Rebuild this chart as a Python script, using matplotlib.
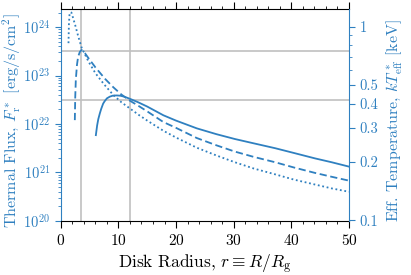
import numpy as np
import matplotlib
matplotlib.use("Agg")
import matplotlib.pyplot as plt
from matplotlib.ticker import FixedLocator, NullFormatter, MultipleLocator, LogLocator

plt.rcParams['font.family'] = 'cmr10'
plt.rcParams['mathtext.fontset'] = 'cm'
plt.rcParams['axes.formatter.use_mathtext'] = True

# radius (R/R_g) and log10 flux [erg/s/cm^2]
r_dot = [1.33, 1.40, 1.50, 1.65, 1.85, 2.2, 2.5, 3.0, 3.6, 4.8, 6.0, 7.5, 9.1,
         10.5, 12.0, 13.5, 15.0, 17.8, 20.0, 23.6, 27.0, 30.2, 33.5, 37.2,
         40.5, 44.1, 47.0, 50.0]
logF_dot = [23.67, 24.05, 24.25, 24.31, 24.30, 24.16, 24.04, 23.82, 23.58, 23.29,
            23.05, 22.82, 22.60, 22.45, 22.32, 22.19, 22.07, 21.86, 21.72, 21.51,
            21.35, 21.21, 21.08, 20.96, 20.85, 20.75, 20.67, 20.60]

r_dash = [2.43, 2.5, 2.6, 2.8, 3.0, 3.3, 3.6, 4.2, 4.8, 6.0, 7.7, 9.1, 10.5,
          12.0, 13.4, 15.0, 17.8, 20.0, 23.6, 27.0, 30.2, 33.5, 37.2, 40.5,
          44.1, 47.0, 50.0]
logF_dash = [22.08, 22.55, 22.91, 23.22, 23.39, 23.49, 23.53, 23.46, 23.36, 23.17,
             22.93, 22.76, 22.61, 22.48, 22.38, 22.26, 22.04, 21.92, 21.71, 21.56,
             21.43, 21.32, 21.21, 21.10, 20.99, 20.91, 20.83]

r_sol = [6.08, 6.3, 6.5, 6.77, 7.0, 7.34, 7.6, 8.0, 8.5, 9.0, 9.7, 10.3, 11.0,
         12.0, 13.4, 15.0, 17.8, 20.0, 23.6, 27.0, 30.2, 33.5, 37.2, 40.5,
         44.1, 47.0, 50.0]
logF_sol = [21.77, 21.97, 22.10, 22.22, 22.31, 22.42, 22.47, 22.53, 22.565, 22.585,
            22.59, 22.585, 22.565, 22.52, 22.45, 22.36, 22.18, 22.07, 21.91, 21.79,
            21.69, 21.60, 21.50, 21.40, 21.29, 21.21, 21.12]

vlines_r = [3.5, 12.0]
hlines_logF = [23.5, 22.5]

temp_ticks = [0.1, 0.2, 0.3, 0.4, 0.5, 1.0]
temp_labels = ['0.1', '0.2', '0.3', '0.4', '0.5', '1']
temp_minor = [0.6, 0.7, 0.8, 0.9]

blue = '#2f80c0'
sigma = 5.6704e-5   # erg/s/cm^2/K^4
k_keV = 8.617e-8    # keV/K

fig = plt.figure(figsize=(4.11, 2.75), dpi=100)
ax = fig.add_axes([0.148, 0.197, 0.701, 0.770])

for r in vlines_r:
    ax.axvline(r, color='#c0c0c0', lw=1.2, zorder=1)
for h in hlines_logF:
    ax.axhline(10**h, color='#c0c0c0', lw=1.2, zorder=1)

ax.plot(r_sol, 10**np.array(logF_sol), color=blue, lw=1.3, ls='-')
ax.plot(r_dash, 10**np.array(logF_dash), color=blue, lw=1.3, ls=(0, (4, 2)))
ax.plot(r_dot, 10**np.array(logF_dot), color=blue, lw=1.3, ls=(0, (1, 1.5)))

ax.set_yscale('log')
ylo, yhi = 1e20, 10**24.374
ax.set_ylim(ylo, yhi)
ax.set_xlim(0, 50)
ax.xaxis.set_major_locator(MultipleLocator(10))
ax.xaxis.set_minor_locator(MultipleLocator(2))
ax.yaxis.set_major_locator(LogLocator(base=10, numticks=10))
ax.yaxis.set_minor_locator(LogLocator(base=10, subs=np.arange(2, 10), numticks=20))
ax.tick_params(axis='x', which='both', top=True, direction='out', labelsize=11)
ax.tick_params(axis='x', which='major', length=5)
ax.tick_params(axis='x', which='minor', length=2.5)
ax.tick_params(axis='y', which='both', colors=blue, labelsize=10.5, direction='out')
ax.tick_params(axis='y', which='major', length=4)
ax.tick_params(axis='y', which='minor', length=2)
ax.spines['left'].set_color(blue)
ax.spines['right'].set_visible(False)
ax.set_xlabel(r'Disk Radius, $r \equiv R/R_{\rm g}$', fontsize=12.5, labelpad=3)
ax.set_ylabel(r'Thermal Flux, $F^*_{\rm r}$ [erg/s/cm$^2$]', fontsize=11.5, color=blue)
ax.yaxis.set_label_coords(-0.133, 0.475)

ax2 = ax.twinx()
ax2.set_yscale('log')
ax2.set_ylim(k_keV * (ylo / sigma)**0.25, k_keV * (yhi / sigma)**0.25)
ax2.yaxis.set_major_locator(FixedLocator(temp_ticks))
ax2.yaxis.set_minor_locator(FixedLocator(temp_minor))
ax2.yaxis.set_minor_formatter(NullFormatter())
ax2.set_yticklabels(temp_labels)
ax2.tick_params(axis='y', which='both', colors=blue, labelsize=10.5, direction='out')
ax2.tick_params(axis='y', which='major', length=4)
ax2.tick_params(axis='y', which='minor', length=2)
ax2.spines['right'].set_color(blue)
ax2.spines['left'].set_visible(False)
ax2.spines['top'].set_visible(False)
ax2.spines['bottom'].set_visible(False)
ax2.set_ylabel(r'Eff. Temperature, $kT^*_{\rm eff}$ [keV]', fontsize=11.5, color=blue)
ax2.yaxis.set_label_coords(1.125, 0.475)

fig.savefig('out.png', dpi=100)
